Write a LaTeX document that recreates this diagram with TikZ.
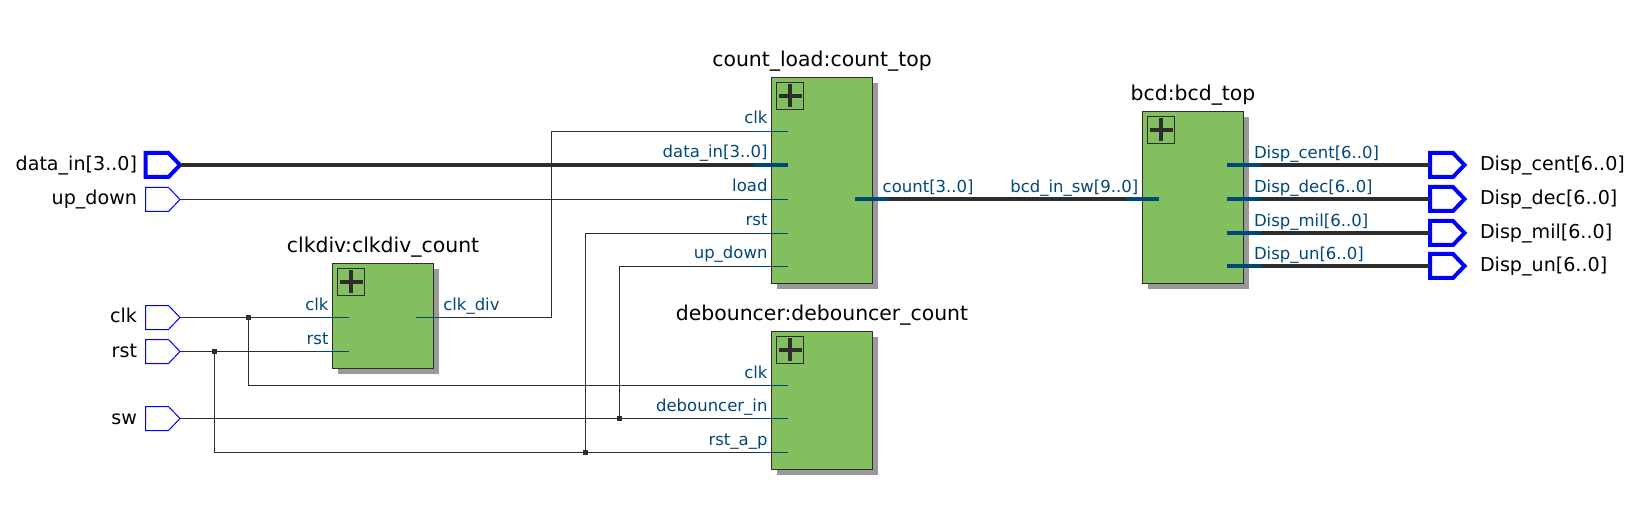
\documentclass[tikz,border=0pt]{standalone}
\usepackage{fontspec}
\setmainfont{DejaVu Sans}
\usetikzlibrary{calc}
\definecolor{wirec}{HTML}{2D2D2D}
\definecolor{stubc}{HTML}{004878}
\definecolor{boxc}{HTML}{83BF5F}
\definecolor{shadowc}{HTML}{999999}
\definecolor{pinc}{HTML}{0000FF}
\tikzset{
  x=1pt,y=-1pt,
  every node/.style={inner sep=0pt,outer sep=0pt},
  wire/.style={draw=wirec,line width=1.2pt},
  bus/.style={draw=wirec,line width=3.7pt},
  stub/.style={draw=stubc,line width=1.2pt},
  busstub/.style={draw=stubc,line width=3.7pt},
  block/.style={draw=wirec,fill=boxc,line width=1.2pt,minimum width=101pt,anchor=north west},
  shadowbox/.style={fill=shadowc,draw=none},
  plusbox/.style={draw=wirec,line width=1pt,minimum width=27pt,minimum height=27pt,anchor=north west},
  pinbox/.style={minimum width=34.5pt,minimum height=24pt},
  pinthin/.style={draw=pinc,line width=1pt,line join=miter},
  pinthick/.style={draw=pinc,line width=4pt,line join=miter},
  title/.style={font=\fontsize{20.4}{20.4}\selectfont,text=black,anchor=base},
  pinl/.style={font=\fontsize{19.1}{19.1}\selectfont,text=black,anchor=base east},
  pinr/.style={font=\fontsize{19.1}{19.1}\selectfont,text=black,anchor=base west},
  portl/.style={font=\fontsize{16.5}{16.5}\selectfont,text=stubc,anchor=base east},
  portr/.style={font=\fontsize{16.5}{16.5}\selectfont,text=stubc,anchor=base west},
  junction/.style={fill=wirec,minimum size=4.6pt},
}
% name, x-left, y-centre, style
\newcommand{\inpin}[4]{%
  \node[pinbox,anchor=west] (#1) at (#2,#3) {};
  \path[#4] (#1.north west) -- ++(23,0) -- (#1.east) -- ++(-11.5,12) -- (#1.south west) -- cycle;
}
% name, x, ytop, ybottom, title
\newcommand{\hblock}[5]{%
  \path[shadowbox] (#2+5.5,#3+5.5) rectangle (#2+106.5,#4+5.5);
  \node[block,minimum height={#4-#3}] (#1) at (#2,#3) {};
  \node[plusbox] (#1p) at (#2+5,#3+5) {};
  \fill[wirec] (#2+18.5-1.9,#3+7) rectangle (#2+18.5+1.9,#3+30);
  \fill[wirec] (#2+7,#3+18.5-1.9) rectangle (#2+30,#3+18.5+1.9);
  \node[title] (#1t) at (#2+50.5,#3-11) {#5};
}
\begin{document}
\begin{tikzpicture}
\useasboundingbox (0,0) rectangle (1638,521);
\fill[white] (0,0) rectangle (1638,521);

% input pins
\inpin{pdata}{145.5}{165}{pinthick}
\inpin{pup}{145.5}{199.5}{pinthin}
\inpin{pclk}{145.5}{317.5}{pinthin}
\inpin{prst}{145.5}{351.5}{pinthin}
\inpin{psw}{145.5}{418.5}{pinthin}
\node[pinl] (lpdata) at (137,171) {data\_in[3..0]};
\node[pinl] (lpup) at (137,205) {up\_down};
\node[pinl] (lpclk) at (137,323) {clk};
\node[pinl] (lprst) at (137,357) {rst};
\node[pinl] (lpsw) at (137,424) {sw};

% port coordinates
\coordinate (cdclk) at (349,317.5);
\coordinate (cdrst) at (349,351.5);
\coordinate (cdout) at (416,317.5);
\coordinate (ctclk) at (788,131.5);
\coordinate (ctdata) at (788,165);
\coordinate (ctload) at (788,199.5);
\coordinate (ctrst) at (788,233.5);
\coordinate (ctup) at (788,266.5);
\coordinate (ctout) at (855,199);
\coordinate (dbclk) at (788,385.5);
\coordinate (dbin) at (788,418.5);
\coordinate (dbrst) at (788,452.5);
\coordinate (bcin) at (1159,199);
\coordinate (bco1) at (1227,165);
\coordinate (bco2) at (1227,199);
\coordinate (bco3) at (1227,233);
\coordinate (bco4) at (1227,266);

% junctions
\node[junction] (jclk) at (248.5,317.5) {};
\node[junction] (jrst) at (214.5,351.5) {};
\node[junction] (jsw) at (619.5,418.5) {};
\node[junction] (jr2) at (585.5,452.5) {};

% wires
\draw[bus] (pdata.east) -- (ctdata);
\draw[wire] (pup.east) -- (ctload);
\draw[wire] (pclk.east) -- (cdclk);
\draw[wire] (prst.east) -- (cdrst);
\draw[wire] (psw.east) -- (dbin);
\draw[wire] (jclk.center) |- (dbclk);
\draw[wire] (jrst.center) |- (dbrst);
\draw[wire] (jsw.center) |- (ctup);
\draw[wire] (jr2.center) |- (ctrst);
\draw[wire] (cdout) -| (551.5,131.5) -- (ctclk);
\draw[bus] (ctout) -- (bcin);

% blocks
\hblock{cd}{332.5}{263.3}{368.3}{clkdiv:clkdiv\_count}
\hblock{ct}{771.5}{77.3}{283.3}{count\_load:count\_top}
\hblock{db}{771.5}{331.3}{469.3}{debouncer:debouncer\_count}
\hblock{bc}{1142.5}{111.3}{283.3}{bcd:bcd\_top}

% output pins and buses
\foreach \nm/\yy/\src/\lab in {o1/165/bco1/Disp\_cent[6..0],o2/199/bco2/Disp\_dec[6..0],o3/233/bco3/Disp\_mil[6..0],o4/266/bco4/Disp\_un[6..0]}{
  \inpin{\nm}{1430}{\yy}{pinthick}
  \draw[bus] (\src) -- (\nm.west);
  \draw[busstub] (\src) -- ++(34,0);
  \node[portr] (pl\nm) at (1254,\yy-6) {\lab};
  \node[pinr] (ol\nm) at (1480,\yy+6) {\lab};
}

% stubs
\draw[stub] (cdclk) -- ++(-33,0);
\draw[stub] (cdrst) -- ++(-33,0);
\draw[stub] (cdout) -- ++(33,0);
\draw[stub] (ctclk) -- ++(-34,0);
\draw[busstub] (ctdata) -- ++(-34,0);
\draw[stub] (ctload) -- ++(-34,0);
\draw[stub] (ctrst) -- ++(-34,0);
\draw[stub] (ctup) -- ++(-34,0);
\draw[busstub] (ctout) -- ++(34,0);
\draw[stub] (dbclk) -- ++(-34,0);
\draw[stub] (dbin) -- ++(-34,0);
\draw[stub] (dbrst) -- ++(-34,0);
\draw[busstub] (bcin) -- ++(-33,0);

% port labels
\node[portl] (lcdclk) at (328.5,310) {clk};
\node[portl] (lcdrst) at (328.5,344) {rst};
\node[portr] (lcdout) at (443.3,310) {clk\_div};
\node[portl] (lctclk) at (767.5,124) {clk};
\node[portl] (lctdata) at (767.5,158) {data\_in[3..0]};
\node[portl] (lctload) at (767.5,192) {load};
\node[portl] (lctrst) at (767.5,226) {rst};
\node[portl] (lctup) at (767.5,259) {up\_down};
\node[portr] (lctout) at (882.7,192.5) {count[3..0]};
\node[portl] (ldbclk) at (767.5,378) {clk};
\node[portl] (ldbin) at (767.5,411) {debouncer\_in};
\node[portl] (ldbrst) at (767.5,445) {rst\_a\_p};
\node[portl] (lbcin) at (1138.3,192.5) {bcd\_in\_sw[9..0]};
\end{tikzpicture}
\end{document}
